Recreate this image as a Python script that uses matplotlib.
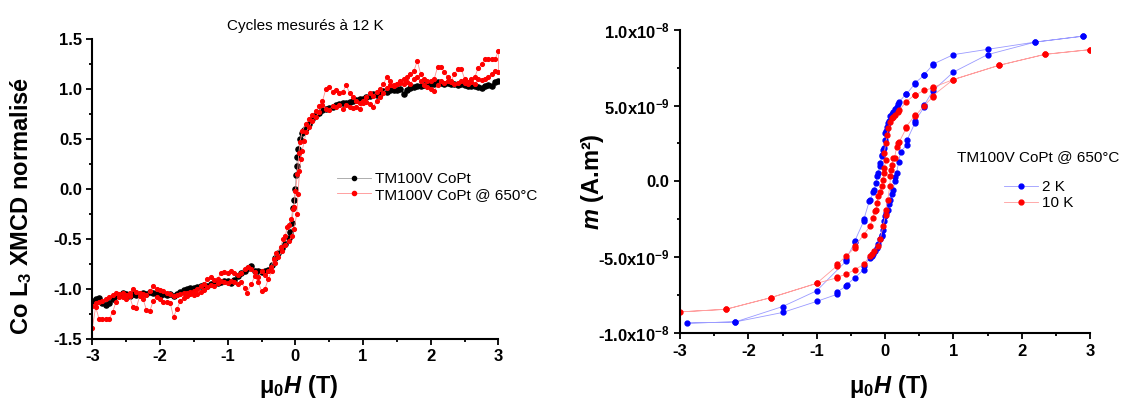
import matplotlib
matplotlib.use('Agg')
import matplotlib.pyplot as plt
import numpy as np
from matplotlib.ticker import MultipleLocator, FuncFormatter

# ---- left panel: Co L3 XMCD loops (12 K) ----
xmcd_h = [-3.0, -2.95, -2.9, -2.85, -2.8, -2.75, -2.7, -2.65, -2.6, -2.55, -2.5, -2.45, -2.4, -2.35,
          -2.3, -2.25, -2.2, -2.15, -2.1, -2.05, -2.0, -1.95, -1.9, -1.85, -1.8, -1.75, -1.7, -1.65,
          -1.6, -1.55, -1.5, -1.45, -1.4, -1.35, -1.3, -1.25, -1.2, -1.15, -1.1, -1.05, -1.0, -0.95,
          -0.9, -0.85, -0.8, -0.75, -0.7, -0.65, -0.6, -0.55, -0.5, -0.45, -0.4, -0.35, -0.3, -0.25,
          -0.2, -0.15, -0.1, -0.075, -0.05, -0.03, -0.015, 0.0, 0.01, 0.02, 0.03, 0.045, 0.07, 0.1,
          0.13, 0.16, 0.2, 0.25, 0.3, 0.35, 0.4, 0.45, 0.5, 0.55, 0.6, 0.65, 0.7, 0.75, 0.8, 0.85,
          0.9, 0.95, 1.0, 1.05, 1.1, 1.15, 1.2, 1.25, 1.3, 1.35, 1.4, 1.45, 1.5, 1.55, 1.6, 1.65,
          1.7, 1.75, 1.8, 1.85, 1.9, 1.95, 2.0, 2.05, 2.1, 2.15, 2.2, 2.25, 2.3, 2.35, 2.4, 2.45,
          2.5, 2.55, 2.6, 2.65, 2.7, 2.75, 2.8, 2.85, 2.9, 2.95, 3.0]
xmcd_copt = [-1.12, -1.10, -1.09, -1.14, -1.16, -1.14, -1.10, -1.07, -1.06, -1.04, -1.05, -1.07, -1.05, -1.06,
             -1.05, -1.04, -1.05, -1.03, -1.04, -1.05, -1.07, -1.05, -1.06, -1.05, -1.07, -1.05, -1.03, -1.01,
             -1.00, -0.99, -0.99, -0.98, -0.97, -0.96, -0.97, -0.95, -0.94, -0.94, -0.93, -0.92, -0.92, -0.94,
             -0.91, -0.87, -0.84, -0.82, -0.79, -0.77, -0.82, -0.82, -0.83, -0.82, -0.81, -0.76, -0.69, -0.64,
             -0.59, -0.55, -0.49, -0.43, -0.34, -0.19, -0.11, 0.0, 0.14, 0.23, 0.32, 0.40, 0.50, 0.56,
             0.59, 0.61, 0.65, 0.70, 0.74, 0.76, 0.79, 0.80, 0.81, 0.82, 0.84, 0.85, 0.86, 0.86, 0.87, 0.88,
             0.89, 0.90, 0.90, 0.92, 0.93, 0.95, 0.94, 0.95, 0.98, 0.97, 0.99, 0.99, 0.99, 1.00, 0.95, 0.99,
             1.01, 1.02, 1.03, 1.03, 1.04, 1.05, 1.05, 1.05, 1.07, 1.06, 1.05, 1.06, 1.05, 1.05, 1.04, 1.05,
             1.04, 1.03, 1.03, 1.03, 1.02, 1.01, 1.03, 1.04, 1.03, 1.07, 1.08]

# annealed sample: field sweep up then down
annealed_h_up = [-3.0, -2.95, -2.9, -2.85, -2.8, -2.75, -2.7, -2.65, -2.6, -2.55, -2.5, -2.45, -2.4, -2.35,
                 -2.3, -2.25, -2.2, -2.15, -2.1, -2.05, -2.0, -1.95, -1.9, -1.85, -1.8, -1.75, -1.7, -1.65,
                 -1.6, -1.55, -1.5, -1.45, -1.4, -1.35, -1.3, -1.25, -1.2, -1.15, -1.1, -1.05, -1.0, -0.95,
                 -0.9, -0.85, -0.8, -0.75, -0.72, -0.65, -0.6, -0.55, -0.5, -0.45, -0.4, -0.35, -0.3, -0.25,
                 -0.2, -0.15, -0.1, -0.05, -0.02, 0.02, 0.04, 0.06, 0.08, 0.1, 0.13, 0.16, 0.2, 0.25, 0.3,
                 0.35, 0.4, 0.45, 0.5, 0.55, 0.6, 0.65, 0.7, 0.75, 0.8, 0.85, 0.9, 0.95, 1.0, 1.05, 1.1,
                 1.15, 1.2, 1.25, 1.3, 1.35, 1.4, 1.45, 1.5, 1.55, 1.6, 1.65, 1.7, 1.75, 1.8, 1.85, 1.9,
                 1.95, 2.0, 2.05, 2.1, 2.15, 2.2, 2.25, 2.3, 2.35, 2.4, 2.45, 2.5, 2.55, 2.6, 2.65, 2.7,
                 2.75, 2.8, 2.85, 2.9, 2.95, 3.0]
annealed_up = [-1.39, -1.18, -1.30, -1.30, -1.30, -1.30, -1.23, -1.13, -1.08, -1.08, -1.10, -1.07, -1.18, -1.19,
               -1.07, -1.10, -1.21, -1.22, -1.12, -1.08, -1.10, -1.13, -1.13, -1.14, -1.28, -1.20, -1.12, -1.09,
               -1.07, -1.05, -1.06, -1.05, -1.03, -1.01, -0.98, -0.96, -0.97, -0.94, -0.92, -0.93, -0.94, -0.92,
               -0.93, -0.95, -0.93, -0.99, -1.04, -0.95, -0.87, -0.93, -1.02, -1.00, -0.90, -0.82, -0.74, -0.68,
               -0.62, -0.56, -0.52, -0.47, -0.40, -0.25, -0.05, 0.18, 0.30, 0.38, 0.48, 0.57, 0.62, 0.68, 0.72,
               0.77, 0.84, 0.80, 0.79, 0.83, 0.82, 0.84, 0.80, 0.84, 0.82, 0.81, 0.82, 0.80, 0.86, 0.87, 0.85,
               0.82, 0.88, 0.92, 0.96, 1.01, 1.04, 1.03, 1.05, 1.06, 1.05, 1.07, 1.05, 1.10, 1.12, 1.08, 1.04,
               1.02, 1.00, 0.98, 1.04, 1.08, 1.06, 1.08, 1.07, 1.05, 1.06, 1.08, 1.06, 1.05, 1.07, 1.05, 1.10,
               1.09, 1.10, 1.12, 1.15, 1.18, 1.17]
annealed_h_down = [3.0, 2.95, 2.9, 2.85, 2.8, 2.75, 2.7, 2.65, 2.6, 2.55, 2.5, 2.45, 2.4, 2.35, 2.3, 2.25,
                   2.2, 2.15, 2.1, 2.05, 2.0, 1.95, 1.9, 1.85, 1.8, 1.75, 1.7, 1.65, 1.6, 1.55, 1.5, 1.45,
                   1.4, 1.35, 1.3, 1.25, 1.2, 1.15, 1.1, 1.05, 1.0, 0.95, 0.9, 0.85, 0.8, 0.75, 0.7, 0.65,
                   0.6, 0.55, 0.5, 0.45, 0.4, 0.35, 0.3, 0.25, 0.2, 0.15, 0.1, 0.07, 0.05, 0.03, 0.0, -0.02,
                   -0.04, -0.06, -0.09, -0.12, -0.15, -0.18, -0.22, -0.28, -0.32, -0.36, -0.4, -0.45, -0.5,
                   -0.55, -0.6, -0.65, -0.7, -0.75, -0.8, -0.85, -0.9, -0.95, -1.0, -1.05, -1.1, -1.15, -1.2,
                   -1.25, -1.3, -1.35, -1.4, -1.45, -1.5, -1.55, -1.6, -1.65, -1.7, -1.75, -1.8, -1.85, -1.9,
                   -1.95, -2.0, -2.05, -2.1, -2.15, -2.2, -2.25, -2.3, -2.35, -2.4, -2.45, -2.5, -2.55, -2.6,
                   -2.65, -2.7, -2.75, -2.8, -2.85, -2.9, -2.95, -3.0]
annealed_down = [1.38, 1.30, 1.30, 1.30, 1.30, 1.25, 1.21, 1.12, 1.10, 1.07, 1.10, 1.20, 1.20, 1.15, 1.08, 1.12,
                 1.17, 1.22, 1.22, 1.10, 1.08, 1.08, 1.10, 1.15, 1.28, 1.18, 1.15, 1.12, 1.10, 1.08, 1.05, 1.04,
                 1.08, 1.12, 1.05, 1.00, 0.97, 0.93, 0.96, 0.92, 0.88, 0.86, 0.88, 0.92, 0.96, 1.04, 0.97, 0.96,
                 0.99, 0.97, 1.02, 1.00, 0.88, 0.83, 0.78, 0.74, 0.70, 0.65, 0.58, 0.47, 0.36, 0.15, -0.02, -0.18,
                 -0.20, -0.30, -0.36, -0.38, -0.47, -0.50, -0.58, -0.64, -0.70, -0.78, -0.82, -0.86, -0.82,
                 -0.88, -0.83, -0.80, -0.78, -0.80, -0.84, -0.86, -0.84, -0.82, -0.84, -0.83, -0.84, -0.90, -0.91,
                 -0.88, -0.90, -0.95, -0.97, -1.00, -1.02, -1.03, -1.04, -1.04, -1.05, -1.06, -1.07, -1.05, -1.04,
                 -1.02, -1.01, -1.00, -0.97, -1.02, -1.06, -1.05, -1.04, -1.03, -1.00, -1.04, -1.06, -1.04, -1.05,
                 -1.04, -1.06, -1.08, -1.10, -1.12, -1.13, -1.14, -1.17]

# ---- right panel: SQUID loops, annealed sample (moment in 1e-9 A.m2) ----
h_2k = [2.90, 2.20, 1.50, 1.00, 0.70, 0.70, 0.575, 0.575, 0.44, 0.44, 0.31, 0.31, 0.21, 0.19, 0.17, 0.14,
        0.12, 0.10, 0.08, 0.06, 0.05, 0.03, 0.01, 0.00, 0.00, -0.02, -0.03, -0.04, -0.05, -0.07, -0.08,
        -0.10, -0.12, -0.13, -0.16, -0.17, -0.22, -0.23, -0.31, -0.31, -0.44, -0.44, -0.57, -0.57, -1.00,
        -1.50, -2.19, -2.90,
        -2.19, -1.50, -1.00, -0.70, -0.70, -0.57, -0.56, -0.44, -0.31, -0.31, -0.22, -0.19, -0.17, -0.15,
        -0.12, -0.10, -0.07, -0.05, -0.04, -0.03, -0.02, 0.00, 0.01, 0.04, 0.06, 0.08, 0.10, 0.12, 0.14,
        0.15, 0.17, 0.20, 0.23, 0.32, 0.32, 0.44, 0.44, 0.575, 0.575, 0.70, 1.00, 1.50, 2.20, 2.90]
m_2k = [9.57, 9.18, 8.70, 8.35, 7.72, 7.68, 7.04, 7.00, 6.49, 6.45, 5.73, 5.78, 5.25, 5.10, 4.90, 4.75,
        4.60, 4.45, 4.33, 3.95, 3.85, 3.60, 3.35, 3.20, 2.70, 2.20, 2.05, 1.75, 1.65, 1.20, 1.05,
        0.55, 0.35, -0.07, -0.55, -0.70, -1.20, -1.30, -2.50, -2.60, -3.90, -4.00, -5.10, -5.25, -7.20,
        -8.24, -9.25, -9.33,
        -9.25, -8.63, -7.90, -7.43, -7.28, -6.90, -6.80, -6.34, -5.80, -5.57, -5.03, -4.90, -4.80, -4.60,
        -4.37, -4.15, -3.80, -3.60, -3.50, -3.17, -2.62, -2.30, -2.10, -1.86, -1.50, -1.20, -0.85, -0.55, 0.00,
        0.30, 0.55, 1.30, 1.97, 2.40, 2.70, 3.87, 4.00, 4.90, 5.03, 5.97, 7.20, 8.35, 9.18, 9.57]

h_10k = [3.00, 2.34, 1.67, 1.00, 0.70, 0.70, 0.575, 0.44, 0.44, 0.31, 0.21, 0.19, 0.14, 0.12, 0.10, 0.08,
         0.05, 0.03, 0.01, -0.01, 0.01, -0.01, -0.02, -0.03, -0.05, -0.07, -0.10, -0.12, -0.13, -0.15,
         -0.18, -0.22, -0.31, -0.44, -0.44, -0.57, -0.70, -0.70, -1.00, -1.67, -2.33, -3.00,
         -2.33, -1.67, -1.00, -0.70, -0.70, -0.57, -0.44, -0.31, -0.22, -0.19, -0.16, -0.10, -0.07, -0.03,
         0.01, 0.01, 0.04, 0.07, 0.08, 0.09, 0.10, 0.12, 0.14, 0.17, 0.19, 0.21, 0.31, 0.31, 0.44, 0.44,
         0.575, 0.70, 0.70, 1.00, 1.67, 2.34, 3.00]
m_10k = [8.68, 8.37, 7.65, 6.71, 6.19, 6.15, 6.01, 5.68, 5.72, 5.25, 4.70, 4.60, 4.37, 4.25, 4.15, 3.93,
         3.50, 3.06, 2.50, 1.86, 1.42, 0.90, 0.55, 0.10, -0.33, -0.70, -0.98, -1.42, -1.90, -1.97,
         -2.40, -2.95, -3.50, -4.26, -4.35, -4.92, -5.46, -5.55, -6.71, -7.65, -8.42, -8.59,
         -8.42, -7.65, -6.71, -6.34, -6.30, -6.12, -5.80, -5.46, -4.90, -4.75, -4.60, -4.25, -3.80, -2.95,
         -2.20, -1.86, -1.20, -0.33, 0.33, 0.77, 1.10, 1.53, 1.53, 2.30, 2.50, 2.62, 3.50, 3.60, 4.37, 4.30,
         5.00, 5.57, 5.65, 6.71, 7.65, 8.37, 8.68]

m_ticks = [-1e-8, -5e-9, 0.0, 5e-9, 1e-8]
m_tick_labels = ['-1.0x10$^{-8}$', '-5.0x10$^{-9}$', '0.0', '5.0x10$^{-9}$', '1.0x10$^{-8}$']

plt.rcParams['font.family'] = ['Liberation Sans', 'DejaVu Sans']
plt.rcParams['font.weight'] = 'bold'
plt.rcParams['mathtext.fontset'] = 'custom'
plt.rcParams['mathtext.rm'] = 'Liberation Sans:bold'
plt.rcParams['mathtext.it'] = 'Liberation Sans:bold:italic'
plt.rcParams['mathtext.bf'] = 'Liberation Sans:bold'
plt.rcParams['axes.unicode_minus'] = False

W, H = 1125, 401
fig = plt.figure(figsize=(W / 100, H / 100), dpi=100)


def px_ax(x0, x1, ytop, ybot):
    return fig.add_axes([x0 / W, 1 - ybot / H, (x1 - x0) / W, (ybot - ytop) / H])


def style(ax):
    for s in ['top', 'right']:
        ax.spines[s].set_visible(False)
    for s in ['left', 'bottom']:
        ax.spines[s].set_linewidth(1.5)
    ax.tick_params(which='major', direction='out', length=4.5, width=1.3, labelsize=12, pad=3)
    ax.tick_params(which='minor', direction='out', length=2.5, width=1.3)
    ax.xaxis.set_major_locator(MultipleLocator(1))
    ax.xaxis.set_minor_locator(MultipleLocator(0.5))


# left
ax1 = px_ax(92.3, 498.5, 39, 339)
ax1.plot(xmcd_h, xmcd_copt, '-o', color='#a0a0a0', lw=0.6, ms=3.7, mfc='black', mec='black',
         label='TM100V CoPt')
red_h = annealed_h_up + annealed_h_down
red_v = annealed_up + annealed_down
ax1.plot(red_h, red_v, '-o', color='#ff9090', lw=0.6, ms=2.7, mfc='red', mec='red',
         label='TM100V CoPt @ 650°C')
ax1.set_xlim(-3, 3)
ax1.set_ylim(-1.5, 1.5)
ax1.yaxis.set_major_locator(MultipleLocator(0.5))
ax1.yaxis.set_minor_locator(MultipleLocator(0.25))
ax1.yaxis.set_major_formatter(FuncFormatter(lambda v, p: '%.1f' % v))
style(ax1)
leg1 = ax1.legend(loc='upper left', bbox_to_anchor=(337 / W, 1 - 172 / H), bbox_transform=fig.transFigure,
                  frameon=False, borderpad=0, borderaxespad=0, handlelength=2.2, handletextpad=0.3,
                  labelspacing=0.1, prop={'size': 11, 'weight': 'normal'})
for h in leg1.legend_handles:
    h.set_markersize(3)

fig.text(305 / W, 1 - 26 / H, 'Cycles mesurés à 12 K', ha='center', va='center', fontsize=11,
         fontweight='normal')
fig.text(21 / W, 1 - 206 / H, 'Co L$_3$ XMCD normalisé', rotation=90, ha='center', va='center',
         fontsize=17, fontweight='bold')
fig.text(298.6 / W, 1 - 387 / H, 'μ$_0\\mathit{H}$ (T)', ha='center', va='center', fontsize=17,
         fontweight='bold')

# right
ax2 = px_ax(680, 1090, 29.6, 333.3)
ax2.plot(h_2k, np.array(m_2k) * 1e-9, '-o', color='#9a9aff', lw=0.6, ms=3.5, mfc='blue', mec='blue',
         label='2 K')
ax2.plot(h_10k, np.array(m_10k) * 1e-9, '-o', color='#ff9c9c', lw=0.6, ms=3.5, mfc='red', mec='red',
         label='10 K')
ax2.set_xlim(-3, 3)
ax2.set_ylim(-1e-8, 1e-8)
ax2.set_yticks(m_ticks)
ax2.set_yticklabels(m_tick_labels)
ax2.yaxis.set_minor_locator(MultipleLocator(2.5e-9))
style(ax2)
ax2.legend(loc='upper left', bbox_to_anchor=(1004 / W, 1 - 180 / H), bbox_transform=fig.transFigure,
           frameon=False, borderpad=0, borderaxespad=0, handlelength=2.2, handletextpad=0.3,
           labelspacing=0.15, prop={'size': 11, 'weight': 'normal'})
fig.text(957 / W, 1 - 157 / H, 'TM100V CoPt @ 650°C', ha='left', va='center', fontsize=11,
         fontweight='normal')
fig.text(592 / W, 1 - 181.5 / H, '$\\mathit{m}$ (A.m²)', rotation=90, ha='center', va='center',
         fontsize=17, fontweight='bold')
fig.text(889 / W, 1 - 386 / H, 'μ$_0\\mathit{H}$ (T)', ha='center', va='center', fontsize=17,
         fontweight='bold')

fig.savefig('out.png', dpi=100)
